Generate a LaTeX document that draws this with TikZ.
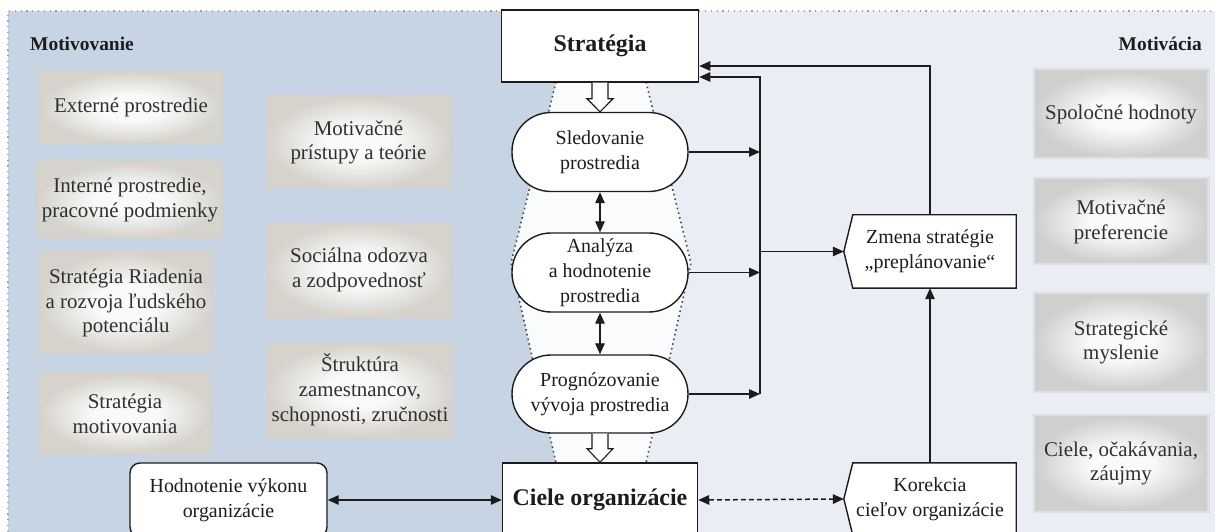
\documentclass[tikz,border=0pt]{standalone}
\usepackage{fontspec}
\setmainfont{Liberation Serif}
\usetikzlibrary{arrows.meta,calc}

\definecolor{bgblue}{RGB}{199,212,228}
\definecolor{bglight}{RGB}{234,238,244}
\definecolor{funnelfill}{RGB}{250,251,253}
\definecolor{ink}{RGB}{28,28,28}
\definecolor{boxtext}{RGB}{48,48,48}
\definecolor{edgeL}{RGB}{214,211,204}
\definecolor{edgeR}{RGB}{207,207,207}
\definecolor{glowc}{RGB}{250,250,250}
\definecolor{dotc}{RGB}{70,75,85}

% soft grey panels: light centre, greyer towards the border
\pgfdeclareradialshading{glowL}{\pgfpointorigin}{color(0bp)=(glowc); color(9bp)=(glowc); color(25bp)=(edgeL); color(50bp)=(edgeL)}
\pgfdeclareradialshading{glowR}{\pgfpointorigin}{color(0bp)=(glowc); color(9bp)=(glowc); color(25bp)=(edgeR); color(50bp)=(edgeR)}

\pgfdeclarelayer{backdrop}
\pgfdeclarelayer{shapes}
\pgfsetlayers{backdrop,shapes,main}

\begin{document}
\begin{tikzpicture}[x=1bp,y=-1bp,
  >={Triangle[length=11bp,width=9.5bp]},
  txt/.style={font=\fontsize{20}{25}\selectfont, text=ink, align=center, inner sep=0pt},
  glowleft/.style={txt, font=\fontsize{21}{25}\selectfont, text=boxtext, shade, shading=glowL,
    preaction={draw=edgeL, line width=5bp, draw opacity=0.45}},
  glowright/.style={txt, font=\fontsize{21}{25}\selectfont, text=boxtext, shade, shading=glowR,
    preaction={draw=edgeR, line width=5bp, draw opacity=0.45}},
  stadium/.style={txt, draw=ink, line width=1.4bp, fill=white, rounded corners=39bp,
    minimum width=176bp, minimum height=79bp},
  mainbox/.style={txt, font=\fontsize{24}{28}\selectfont\bfseries, draw=ink,
    line width=1.5bp, fill=white},
  boxline/.style={draw=ink, line width=1.4bp},
  conn/.style={draw=ink, line width=1.3bp},
  hollow/.style={draw=ink, line width=1.1bp, fill=white, line join=miter},
  funneledge/.style={draw=dotc, line width=1.6bp, dash pattern=on 1.6bp off 3.2bp},
  frame/.style={draw=gray!75, line width=1.2bp, dash pattern=on 1.2bp off 4.6bp},
  heading/.style={txt, font=\fontsize{19.5}{23}\selectfont\bfseries}
]
\useasboundingbox (0,0) rectangle (1215,532);
\clip (0,0) rectangle (1215,532);

% backdrop: two tinted halves, the white funnel and the dotted frame
\begin{pgfonlayer}{backdrop}
  \fill[white] (0,0) rectangle (1215,532);
  \fill[bgblue] (8,11) rectangle (601,532);
  \fill[bglight] (601,11) rectangle (1215,532);
  \fill[funnelfill] (556,82) -- (511,263) -- (556,463)
      -- (646,463) -- (691,263) -- (646,82) -- cycle;
  \draw[funneledge] (556,82) -- (511,263) -- (556,463);
  \draw[funneledge] (646,82) -- (691,263) -- (646,463);
  \draw[frame] (8,532) -- (8,11) -- (1215,11);
\end{pgfonlayer}

% headings
\node[heading, anchor=west] (hdL) at (30,44) {Motivovanie};
\node[heading, anchor=east] (hdR) at (1202,44) {Motivácia};

% left column
\node[glowleft, minimum width=182bp, minimum height=71bp] (ext) at (131,107.5) {Externé prostredie};
\node[glowleft, minimum width=184bp, minimum height=74bp] (intr) at (130,200) {Interné prostredie,\\pracovné podmienky};
\node[glowleft, minimum width=172bp, minimum height=100bp] (sriad) at (126,303) {Stratégia Riadenia\\a rozvoja ľudského\\potenciálu};
\node[glowleft, minimum width=170bp, minimum height=77bp] (smot) at (125,413.5) {Stratégia\\motivovania};

% second column
\node[glowleft, minimum width=183bp, minimum height=91bp] (mpt) at (358.5,142.5) {Motivačné\\prístupy a teórie};
\node[glowleft, minimum width=182bp, minimum height=93bp] (soc) at (359,270) {Sociálna odozva\\a zodpovednosť};
\node[glowleft, minimum width=184bp, minimum height=92bp] (stz) at (360,390) {Štruktúra\\zamestnancov,\\schopnosti, zručnosti};

% right column
\node[glowright, minimum width=172bp, minimum height=86bp] (spol) at (1121,114) {Spoločné hodnoty};
\node[glowright, minimum width=172bp, minimum height=83bp] (mpref) at (1121,221.5) {Motivačné\\preferencie};
\node[glowright, minimum width=172bp, minimum height=95bp] (strm) at (1121,342.5) {Strategické\\myslenie};
\node[glowright, minimum width=172bp, minimum height=93bp] (ciel) at (1121,463.5) {Ciele, očakávania,\\záujmy};

% central process
\node[mainbox, minimum width=197bp, minimum height=72bp] (strat) at (600,46) {Stratégia};
\node[stadium] (sled) at (600,152) {Sledovanie\\prostredia};
\node[stadium] (anal) at (600,272.5) {Analýza\\a hodnotenie\\prostredia};
\node[stadium, minimum height=78bp] (prog) at (600,394) {Prognózovanie\\vývoja prostredia};
\node[mainbox, minimum width=195bp, minimum height=74bp] (ciele) at (600,500) {Ciele organizácie};
\node[txt, draw=ink, line width=1.4bp, fill=white, rounded corners=10bp,
      minimum width=197bp, minimum height=74bp] (hod) at (228.5,500) {Hodnotenie výkonu\\organizácie};

% feedback boxes with a pointed left side
\node[txt, minimum width=172bp, minimum height=73bp] (zm) at (930,251.5) {Zmena stratégie\\„preplánovanie“};
\node[txt, minimum width=172bp, minimum height=72bp] (kor) at (930,499) {Korekcia\\cieľov organizácie};
\begin{pgfonlayer}{shapes}
  \filldraw[boxline, fill=white] ([xshift=9bp]zm.north west) -- (zm.north east) -- (zm.south east)
      -- ([xshift=9bp]zm.south west) -- (zm.west) -- cycle;
  \filldraw[boxline, fill=white] ([xshift=9bp]kor.north west) -- (kor.north east) -- (kor.south east)
      -- ([xshift=9bp]kor.south west) -- (kor.west) -- cycle;
\end{pgfonlayer}

% hollow block arrows
\draw[hollow] ($(strat.south)+(-8,0)$) -- ++(0,16) -- ++(-5,0) -- (sled.north)
   -- ($(strat.south)+(13,16)$) -- ++(-5,0) -- ++(0,-16);
\draw[hollow] ($(prog.south)+(-8,0)$) -- ++(0,15) -- ++(-5,0) -- (ciele.north)
   -- ($(prog.south)+(13,15)$) -- ++(-5,0) -- ++(0,-15);

% connectors
\coordinate (busx) at (760,0);
\coordinate (sIn1) at ($(strat.east)+(0,20)$);
\coordinate (sIn2) at ($(strat.east)+(0,31)$);
\draw[conn,<->] (sled.south) -- (anal.north);
\draw[conn,<->] (anal.south) -- (prog.north);
\draw[conn,->] (sled.east) -- (sled.east -| busx);
\draw[conn,->] (anal.east) -- (anal.east -| busx);
\draw[conn,->] (prog.east) -- (prog.east -| busx);
\draw[conn,->] (prog.east -| busx) -- (sIn2 -| busx) -- (sIn2);
\draw[conn,->] (zm.west -| busx) -- (zm.west);
\draw[conn,->] (zm.north) |- (sIn1);
\draw[conn,->] (kor.north) -- (zm.south);
\draw[conn,<->] (hod.east) -- (hod.east -| ciele.west);
\draw[conn,<->,line width=1.5bp,dash pattern=on 5bp off 3bp] (ciele.east) -- (kor.west);
\end{tikzpicture}
\end{document}
